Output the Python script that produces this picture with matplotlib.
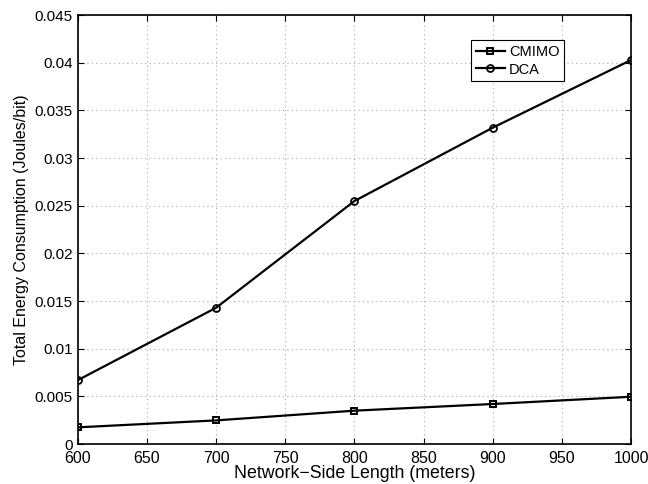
import matplotlib
matplotlib.use("Agg")
import matplotlib.pyplot as plt

side_length = [600, 700, 800, 900, 1000]
cmimo = [0.00175, 0.00248, 0.0035, 0.0042, 0.00496]
dca = [0.0067, 0.0143, 0.0255, 0.0332, 0.0403]

x_ticks = [600, 650, 700, 750, 800, 850, 900, 950, 1000]
y_ticks = [0, 0.005, 0.01, 0.015, 0.02, 0.025, 0.03, 0.035, 0.04, 0.045]
y_tick_labels = ["0", "0.005", "0.01", "0.015", "0.02", "0.025", "0.03", "0.035", "0.04", "0.045"]

plt.rcParams['font.family'] = ['Liberation Sans', 'DejaVu Sans']

fig = plt.figure(figsize=(6.48, 4.84), dpi=100)
ax = fig.add_axes([0.120, 0.0826, 0.854, 0.886])

ax.plot(side_length, cmimo, color='black', linewidth=1.6, marker='s',
        markersize=4.5, markerfacecolor='none', markeredgewidth=1.4, label='CMIMO')
ax.plot(side_length, dca, color='black', linewidth=1.6, marker='o',
        markersize=5, markerfacecolor='none', markeredgewidth=1.3, label='DCA')

ax.set_xlim(600, 1000)
ax.set_ylim(0, 0.045)
ax.set_xticks(x_ticks)
ax.set_yticks(y_ticks)
ax.set_yticklabels(y_tick_labels)
ax.tick_params(direction='in', labelsize=11, length=4, width=0.8, top=True, right=True)
ax.tick_params(axis='x', labelsize=11.5, pad=5)
ax.grid(True, linestyle=(0, (1, 3)), color='#aaaaaa', linewidth=0.8)
for s in ax.spines.values():
    s.set_linewidth(1.2)

ax.set_xlabel("Network\u2212Side Length (meters)", fontsize=12.8, labelpad=-1)
ax.set_ylabel("Total Energy Consumption (Joules/bit)", fontsize=11.5, labelpad=4)

leg = ax.legend(loc='upper left', bbox_to_anchor=(0.698, 0.958), fontsize=10.5,
                fancybox=False, framealpha=1, edgecolor='black', borderpad=0.3,
                handlelength=2.0, labelspacing=0.25, handletextpad=0.3)
leg.get_frame().set_linewidth(0.8)

plt.savefig("out.png", dpi=100)
